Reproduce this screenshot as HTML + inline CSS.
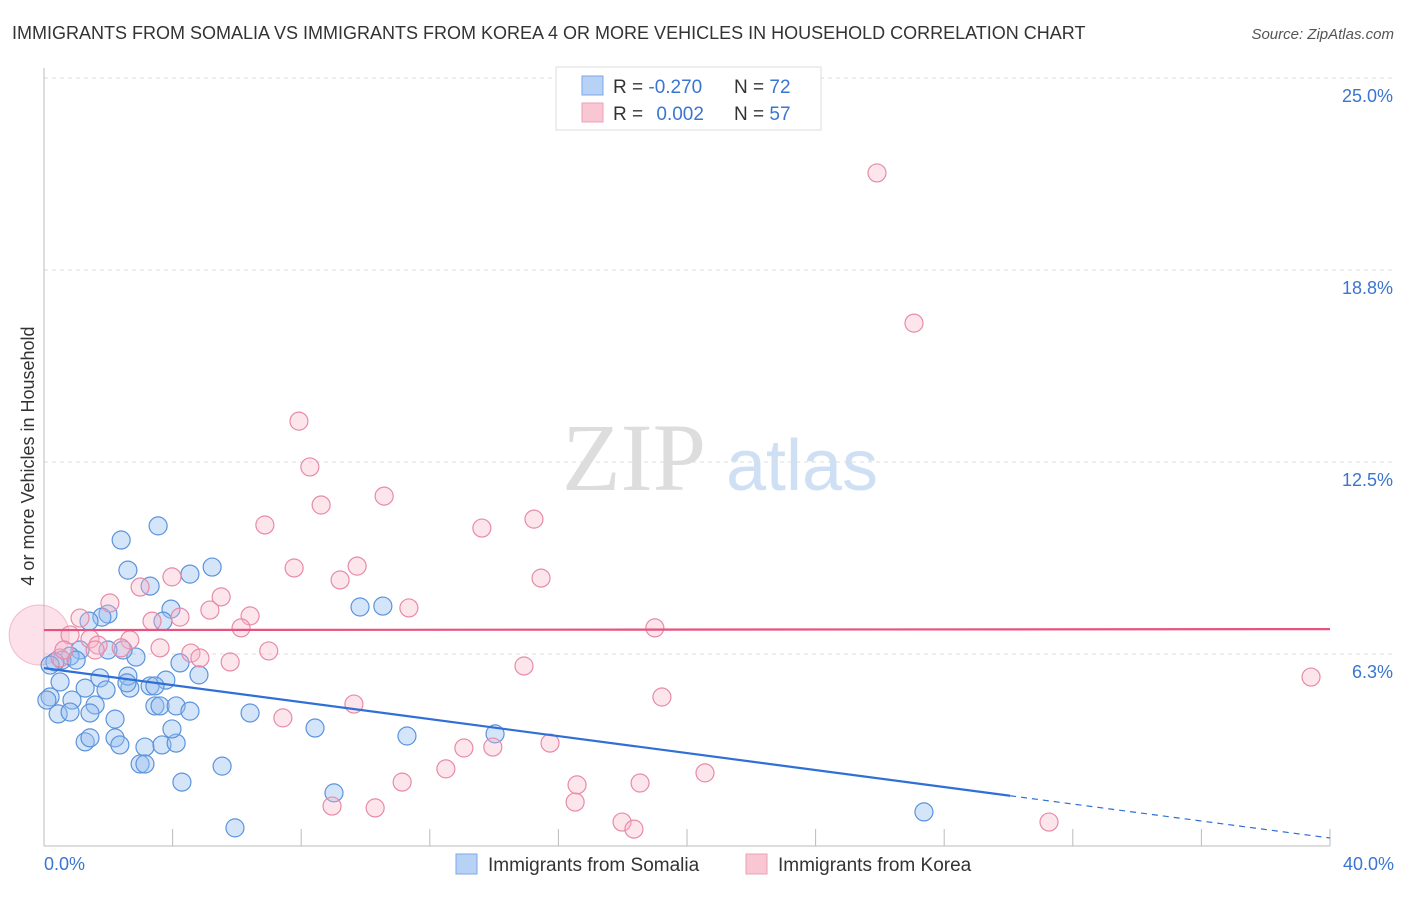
<!DOCTYPE html>
<html><head><meta charset="utf-8">
<style>
body{margin:0;background:#fff;font-family:"Liberation Sans",sans-serif;}
svg text{font-family:"Liberation Sans",sans-serif;}
</style></head>
<body>
<svg id="chart" width="1406" height="892" viewBox="0 0 1406 892" xmlns="http://www.w3.org/2000/svg">
<text x="12" y="39" font-size="18" fill="#333">IMMIGRANTS FROM SOMALIA VS IMMIGRANTS FROM KOREA 4 OR MORE VEHICLES IN HOUSEHOLD CORRELATION CHART</text>
<text x="1394" y="39" font-size="15" fill="#555" text-anchor="end" font-style="italic">Source: ZipAtlas.com</text>
<g>
<text x="634" y="490" font-size="96" fill="#ddd" font-family="Liberation Serif" text-anchor="middle" style="font-family:'Liberation Serif',serif">ZIP</text>
<text x="802" y="490" font-size="72" fill="#cfe0f5" text-anchor="middle">atlas</text>
</g>
<g id="grid"></g>
<g id="axes"></g>
<g id="points"></g>
<g id="trends"></g>
<text transform="translate(34,456) rotate(-90)" font-size="18" fill="#333" text-anchor="middle">4 or more Vehicles in Household</text>
<g>
<rect x="556" y="67" width="265" height="63" fill="#fff" stroke="#ddd"/>
<rect x="582" y="76" width="21" height="19" fill="#b8d2f5" stroke="#7aa8e6"/>
<rect x="582" y="103" width="21" height="19" fill="#f9c6d4" stroke="#eaa0b6"/>
<text x="613" y="93" font-size="19" fill="#333">R = <tspan fill="#3a75d0">-0.270</tspan></text>
<text x="734" y="93" font-size="19" fill="#333">N = <tspan fill="#3a75d0">72</tspan></text>
<text x="613" y="120" font-size="19" fill="#333">R = <tspan fill="#3a75d0" dx="8">0.002</tspan></text>
<text x="734" y="120" font-size="19" fill="#333">N = <tspan fill="#3a75d0">57</tspan></text>
</g>
<g>
<rect x="456" y="854" width="21" height="20" fill="#b8d2f5" stroke="#7aa8e6"/>
<text x="488" y="871" font-size="19" fill="#333">Immigrants from Somalia</text>
</g>
<g>
<rect x="746" y="854" width="21" height="20" fill="#f9c6d4" stroke="#eaa0b6"/>
<text x="778" y="871" font-size="19" fill="#333">Immigrants from Korea</text>
</g>
</svg>
<script>
const yTicks=[6.25,12.5,18.75,25];
const yTickLabels=["6.3%","12.5%","18.8%","25.0%"];
const xTickCount=[0,4,8,12,16,20,24,28,32,36,40];
const xLabels=["0.0%","40.0%"];
const somaliaX=[2.40,3.55,2.61,3.30,4.54,5.23,3.95,3.70,1.99,1.80,1.40,9.83,10.54,4.23,2.86,2.46,1.99,1.12,0.81,0.56,0.34,0.19,4.82,3.79,3.30,3.45,2.67,2.61,1.74,1.28,0.50,0.19,1.93,1.59,0.87,0.44,1.43,2.21,3.45,3.61,4.11,4.54,6.41,2.21,2.36,1.28,1.43,3.14,3.67,4.11,3.98,8.43,11.29,14.03,2.99,3.14,5.54,4.29,9.02,5.94,27.37,0.81,0.09,1.00,2.58];
const somaliaY=[9.96,10.42,8.98,8.46,8.85,9.08,7.71,7.32,7.55,7.45,7.32,7.78,7.81,5.96,6.15,6.38,6.38,6.38,6.18,6.05,5.99,5.89,5.57,5.40,5.21,5.21,5.14,5.53,5.47,5.14,5.34,4.85,5.08,4.59,4.75,4.30,4.33,4.13,4.56,4.56,4.56,4.39,4.33,3.52,3.29,3.39,3.52,3.22,3.29,3.35,3.81,3.84,3.58,3.65,2.67,2.67,2.60,2.08,1.73,0.59,1.11,4.36,4.75,6.05,5.31];
const koreaX=[25.91,27.06,7.93,8.27,8.62,10.58,15.24,13.62,6.87,7.78,9.74,9.21,15.46,3.98,2.99,2.05,5.51,5.16,6.41,4.23,3.36,1.12,11.35,6.13,19.00,0.81,1.43,2.67,1.68,2.40,3.61,4.57,4.85,5.79,6.99,14.93,19.22,39.41,7.43,9.64,13.06,13.96,15.74,12.50,11.14,16.58,16.52,18.54,20.56,8.96,10.30,17.98,18.35,31.26,0.50,1.59,0.62];
const koreaY=[21.91,17.02,13.83,12.34,11.10,11.39,10.64,10.35,10.45,9.05,9.11,8.66,8.72,8.76,8.43,7.91,8.11,7.68,7.49,7.45,7.32,7.42,7.75,7.10,7.10,6.87,6.74,6.71,6.54,6.45,6.45,6.28,6.12,5.99,6.35,5.86,4.85,5.50,4.17,4.62,3.19,3.22,3.35,2.51,2.08,1.99,1.43,2.05,2.38,1.30,1.24,0.78,0.55,0.78,6.12,6.38,6.38];
const somaliaTrend=[5.79,0.26];
const somaliaSolidEnd=30.05;
const koreaTrend=[7.03,7.06];
const NS="http://www.w3.org/2000/svg";
const X0=44,X1=1330,Y0=846,Y1=78;
function sx(v){return X0+(v/40)*(X1-X0);}
function sy(v){return Y0-(v/25)*(Y0-Y1);}
function mk(tag,attrs,parent){const e=document.createElementNS(NS,tag);for(const k in attrs)e.setAttribute(k,attrs[k]);parent.appendChild(e);return e;}
const grid=document.getElementById('grid'),axes=document.getElementById('axes'),pts=document.getElementById('points'),tr=document.getElementById('trends');
yTicks.forEach((t,i)=>{
 const l=mk('line',{x1:X0,x2:1394,y1:sy(t),y2:sy(t),stroke:'#ddd','stroke-dasharray':'4,4'},grid);
 
 
 const tx=mk('text',{x:1393,y:sy(t)+24,'font-size':18,fill:'#3a75d0','text-anchor':'end'},axes);
 tx.textContent=yTickLabels[i];
 
 
});
const ya=mk('line',{x1:X0,x2:X0,y1:68,y2:Y0,stroke:'#bbb'},axes);


const xa=mk('line',{x1:X0,x2:X1,y1:Y0,y2:Y0,stroke:'#bbb'},axes);


xTickCount.forEach(t=>{
 const l=mk('line',{x1:sx(t),x2:sx(t),y1:Y0,y2:Y0-17,stroke:'#bbb'},axes);
 
 
});
const xl0=mk('text',{x:44,y:870,'font-size':18,fill:'#3a75d0'},axes);xl0.textContent=xLabels[0];


const xl1=mk('text',{x:1394,y:870,'font-size':18,fill:'#3a75d0','text-anchor':'end'},axes);xl1.textContent=xLabels[1];


// big korea point at origin cluster
const big=mk('circle',{cx:sx(-0.15),cy:sy(6.87),r:30,fill:'rgba(245,170,195,0.35)',stroke:'rgba(232,130,160,0.5)'},pts);


somaliaX.forEach((x,i)=>{
 const c=mk('circle',{cx:sx(x),cy:sy(somaliaY[i]),r:9,fill:'rgba(150,190,240,0.4)',stroke:'#5b93dc','stroke-width':1.2},pts);
 
 
});
koreaX.forEach((x,i)=>{
 const c=mk('circle',{cx:sx(x),cy:sy(koreaY[i]),r:9,fill:'rgba(248,180,200,0.35)',stroke:'#e88aa8','stroke-width':1.2},pts);
 
 
});
function ty(a,x){return a[0]+(a[1]-a[0])*x/40;}
const s1=mk('line',{x1:sx(0),y1:sy(ty(somaliaTrend,0)),x2:sx(somaliaSolidEnd),y2:sy(ty(somaliaTrend,somaliaSolidEnd)),stroke:'#2f6fd6','stroke-width':2.2},tr);


const s2=mk('line',{x1:sx(somaliaSolidEnd),y1:sy(ty(somaliaTrend,somaliaSolidEnd)),x2:sx(40),y2:sy(ty(somaliaTrend,40)),stroke:'#2f6fd6','stroke-width':1.2,'stroke-dasharray':'6,5'},tr);


const k1=mk('line',{x1:sx(0),y1:sy(koreaTrend[0]),x2:sx(40),y2:sy(koreaTrend[1]),stroke:'#e8527e','stroke-width':2.2},tr);


</script>
</body></html>
